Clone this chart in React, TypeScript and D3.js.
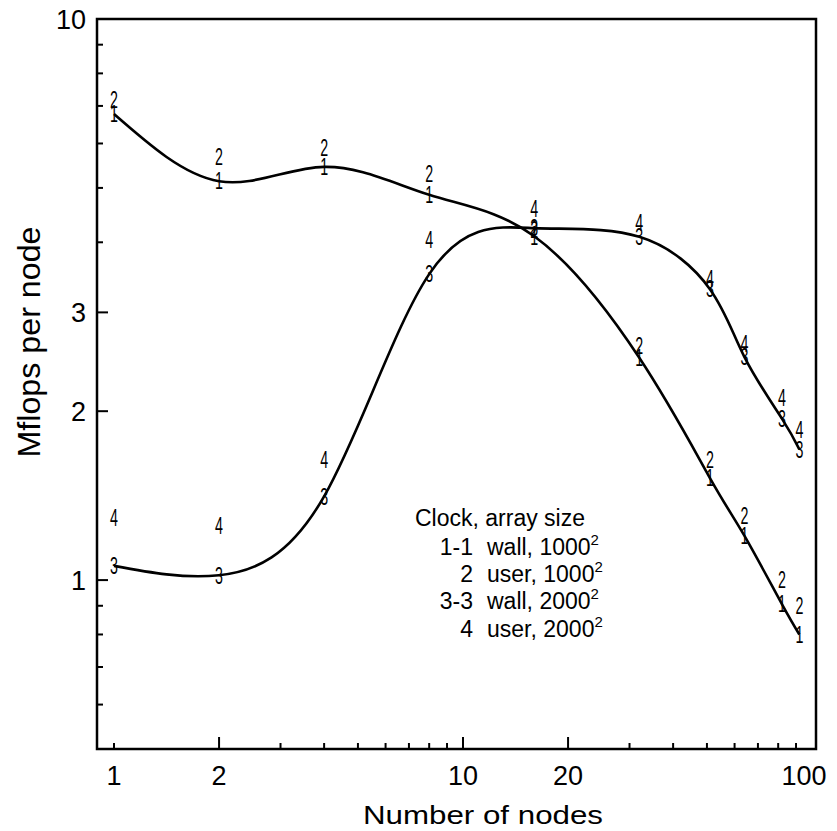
import * as d3 from "d3";

// node counts at which the runs were measured
const nodes = [1, 2, 4, 8, 16, 32, 51, 64, 82, 92];

// Mflops per node
const wall1000 = [6.77, 5.14, 5.45, 4.86, 4.1, 2.49, 1.52, 1.2, 0.906, 0.8];
const user1000 = [7.17, 5.68, 5.89, 5.31, 4.22, 2.62, 1.64, 1.3, 1.0, 0.9];
const wall2000 = [1.06, 1.02, 1.41, 3.51, 4.24, 4.09, 3.3, 2.5, 1.94, 1.71];
const user2000 = [1.29, 1.25, 1.64, 4.05, 4.6, 4.33, 3.45, 2.64, 2.11, 1.85];

const seriesMarks = ["1", "2", "3", "4"];
const seriesValues = [wall1000, user1000, wall2000, user2000];
const seriesHasCurve = [true, false, true, false];

const xLabelTicks = [1, 2, 10, 20, 100];
const xLongTicks = [2, 10, 20];
const yLabelTicks = [1, 2, 3, 10];
const yLongTicks = [1, 2, 3];

const legendTitle = "Clock, array size";
const legendKeys = ["1-1", "2", "3-3", "4"];
const legendClocks = ["wall, 1000", "user, 1000", "wall, 2000", "user, 2000"];

const W = 837;
const H = 831;
const FRAME = { left: 97, right: 816, top: 19, bottom: 749 };
const FONT = "'Liberation Sans', Arial, Helvetica, sans-serif";

export default function App() {
  const x = d3.scaleLog().domain([1, 100]).range([114, 812]);
  const y = d3.scaleLog().domain([0.5, 10]).range([FRAME.bottom, FRAME.top]);

  const line = d3
    .line<[number, number]>()
    .x((d) => x(d[0]))
    .y((d) => y(d[1]))
    .curve(d3.curveNatural);

  const xTicks = x.ticks().filter((t) => t >= 1 && t < 100);
  const yTicks = y.ticks().filter((t) => t > 0.5 && t < 10);

  return (
    <svg
      width={W}
      height={H}
      style={{ position: "absolute", left: 0, top: 0, background: "#fff" }}
      fontFamily={FONT}
    >
      {/* curves through series 1 and 3 */}
      {seriesValues.map((vals, i) =>
        seriesHasCurve[i] ? (
          <path
            key={"c" + i}
            d={line(nodes.map((n, j) => [n, vals[j]]))!}
            fill="none"
            stroke="#000"
            strokeWidth={2.6}
          />
        ) : null
      )}

      {/* symbol markers */}
      {seriesValues.map((vals, i) =>
        nodes.map((n, j) => (
          <text
            key={`m${i}-${j}`}
            transform={`translate(${x(n)},${y(vals[j])}) scale(0.62,1)`}
            textAnchor="middle"
            dy="0.36em"
            fontSize={23}
            fill="#000"
          >
            {seriesMarks[i]}
          </text>
        ))
      )}

      {/* frame */}
      <rect
        x={FRAME.left}
        y={FRAME.top}
        width={FRAME.right - FRAME.left}
        height={FRAME.bottom - FRAME.top}
        fill="none"
        stroke="#000"
        strokeWidth={2.5}
      />

      {/* x ticks */}
      {xTicks.map((t) => (
        <line
          key={"xt" + t}
          x1={x(t)}
          x2={x(t)}
          y1={FRAME.bottom}
          y2={FRAME.bottom - (xLongTicks.includes(t) ? 12 : 6)}
          stroke="#000"
          strokeWidth={2}
        />
      ))}
      {xLabelTicks.map((t) => (
        <text
          key={"xl" + t}
          x={x(t)}
          dx={t === 100 ? -8 : 0}
          y={785}
          textAnchor="middle"
          fontSize={27}
        >
          {t}
        </text>
      ))}

      {/* y ticks */}
      {yTicks.map((t) => (
        <line
          key={"yt" + t}
          x1={FRAME.left}
          x2={FRAME.left + (yLongTicks.includes(t) ? 11 : 6)}
          y1={y(t)}
          y2={y(t)}
          stroke="#000"
          strokeWidth={2}
        />
      ))}
      {yLabelTicks.map((t) => (
        <text
          key={"yl" + t}
          x={86}
          y={y(t)}
          dy="0.36em"
          textAnchor="end"
          fontSize={27}
        >
          {t}
        </text>
      ))}

      {/* axis titles */}
      <text
        x={483}
        y={824}
        textAnchor="middle"
        fontSize={26}
        textLength={240}
        lengthAdjust="spacingAndGlyphs"
      >
        Number of nodes
      </text>
      <text
        transform="translate(40,342) rotate(-90)"
        textAnchor="middle"
        fontSize={31}
        textLength={231}
        lengthAdjust="spacingAndGlyphs"
      >
        Mflops per node
      </text>

      {/* legend */}
      <g fontSize={23}>
        <text x={415} y={526}>
          {legendTitle}
        </text>
        {legendKeys.map((k, i) => (
          <g key={"lg" + k}>
            <text x={473} y={555 + i * 27.2} textAnchor="end">
              {k}
            </text>
            <text x={487} y={555 + i * 27.2}>
              {legendClocks[i]}
              <tspan dy={-10} fontSize={15}>
                2
              </tspan>
            </text>
          </g>
        ))}
      </g>
    </svg>
  );
}
